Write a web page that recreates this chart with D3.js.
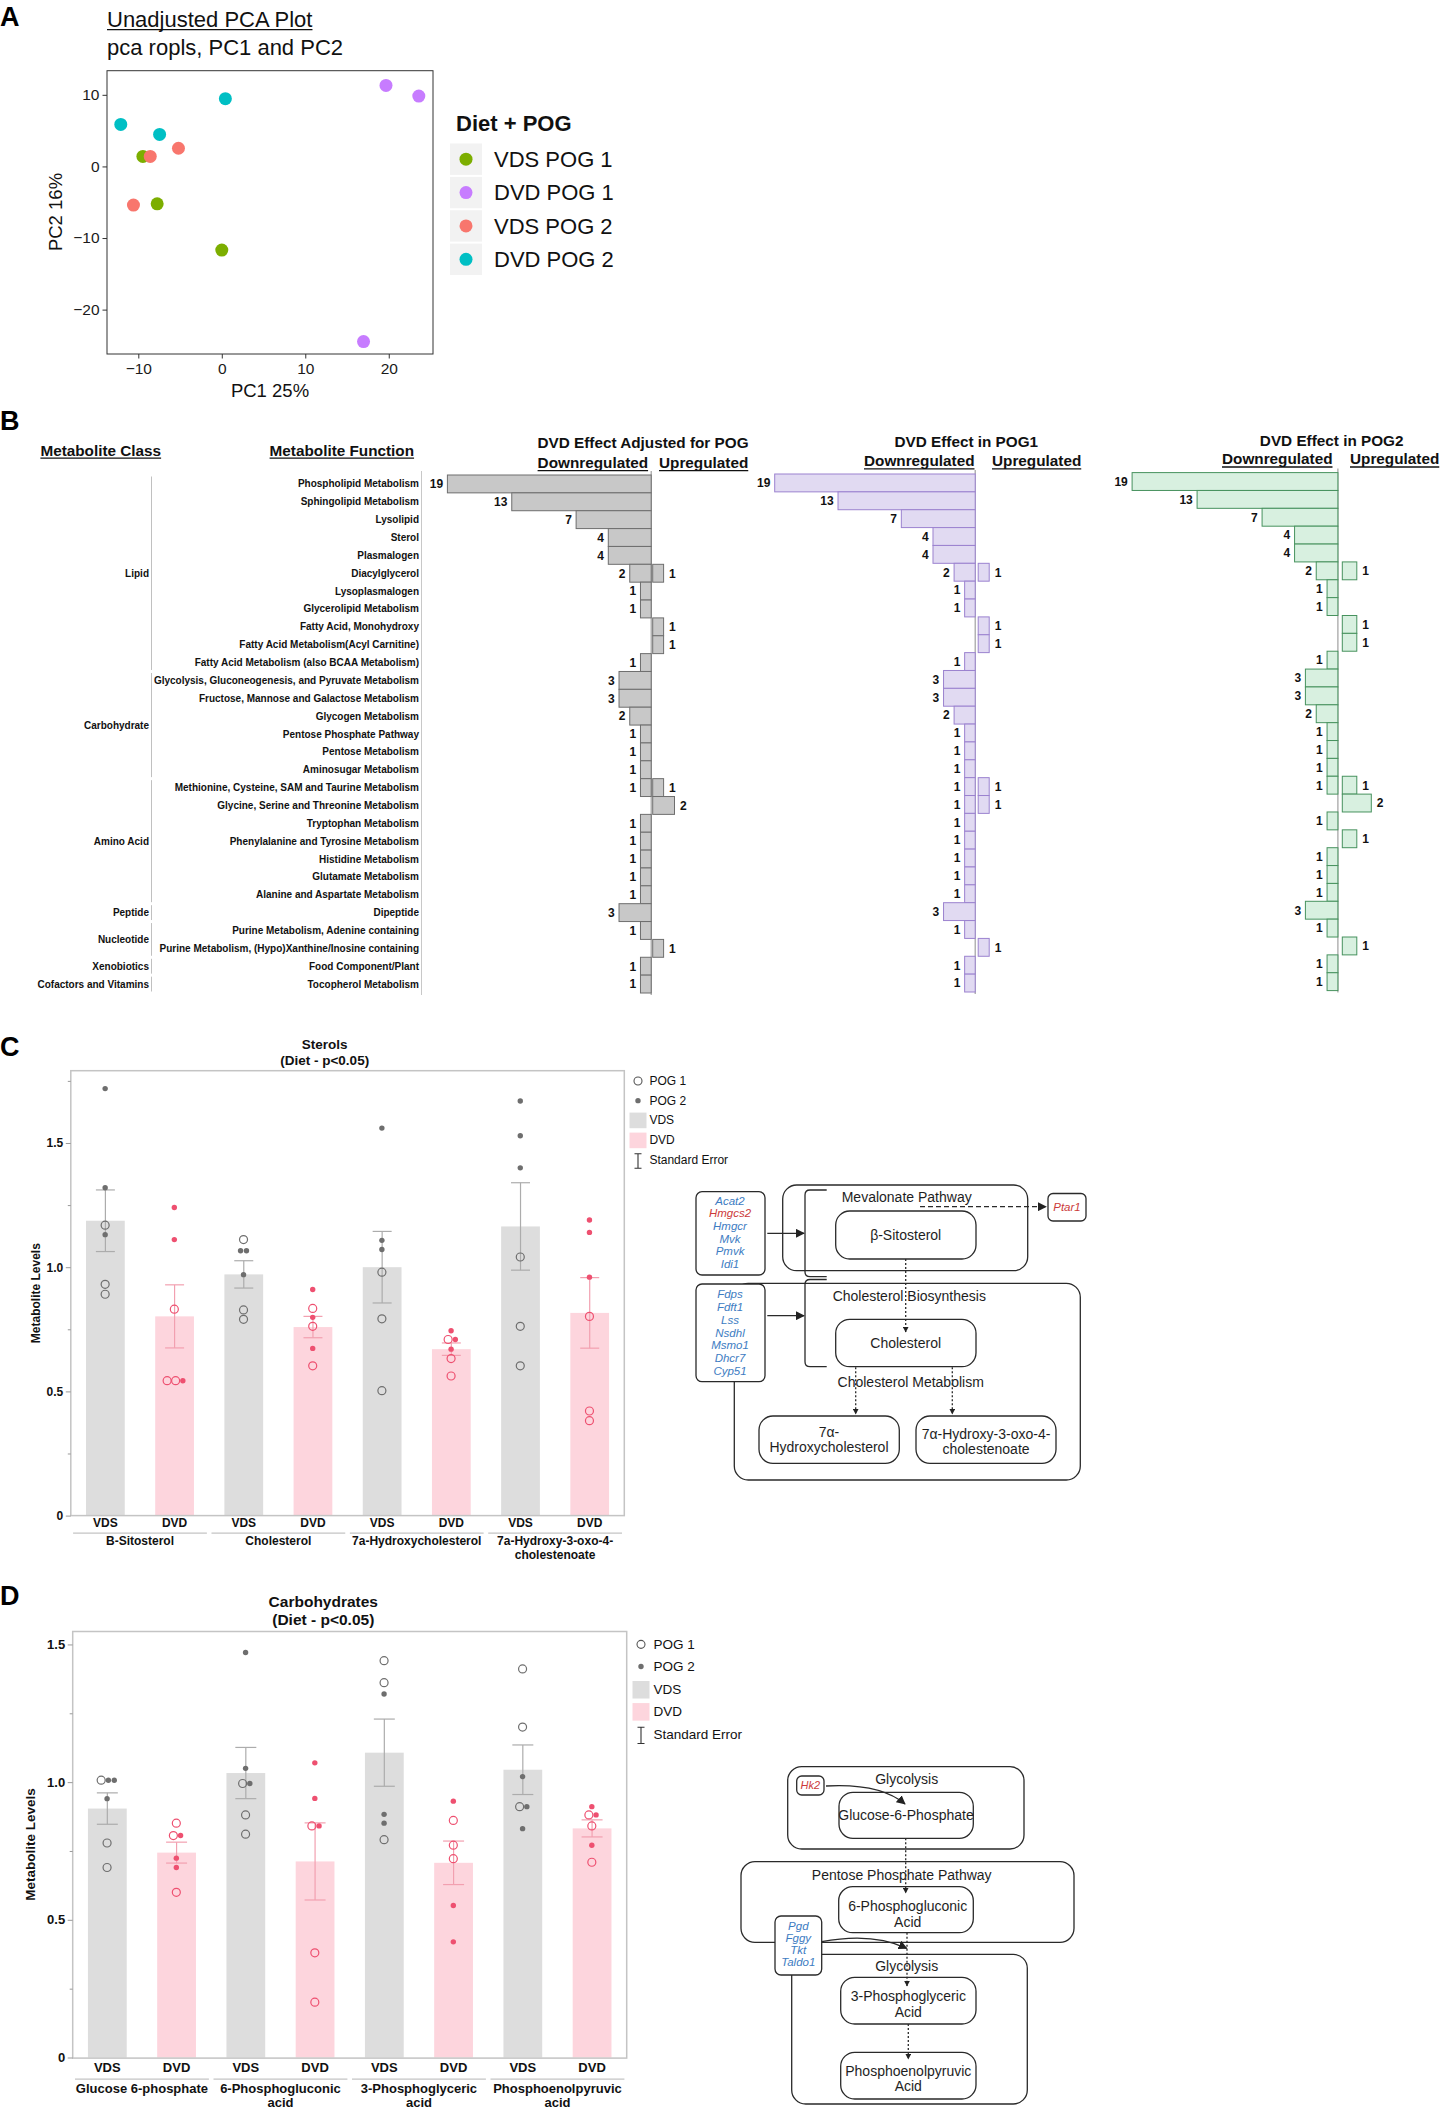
<!DOCTYPE html>
<html><head><meta charset="utf-8">
<script src="https://cdnjs.cloudflare.com/ajax/libs/d3/7.8.5/d3.min.js"></script>
<style>html,body{margin:0;padding:0;background:#fff}svg{display:block}</style>
</head><body>
<svg id="fig" width="1444" height="2112"></svg>
<script>
// ================= DATA =================
// Panel A – PCA scores
const pcaGroups = ["VDS POG 1","DVD POG 1","VDS POG 2","DVD POG 2"];
const pcaGroup = ["VDS POG 1","VDS POG 1","VDS POG 1","DVD POG 1","DVD POG 1","DVD POG 1",
                  "VDS POG 2","VDS POG 2","VDS POG 2","DVD POG 2","DVD POG 2","DVD POG 2"];
const pcaPC1 = [-9.45,-7.74,0.0,19.67,23.6,16.98,-8.57,-5.19,-10.58,-12.1,0.43,-7.45];
const pcaPC2 = [1.39,-5.22,-11.68,11.31,9.83,-24.47,1.39,2.54,-5.4,5.86,9.46,4.47];
const pcaXTicks = [-10,0,10,20];
const pcaYTicks = [-20,-10,0,10];

// Panel B – metabolite counts
const metaFunctions = ["Phospholipid Metabolism","Sphingolipid Metabolism","Lysolipid","Sterol","Plasmalogen",
 "Diacylglycerol","Lysoplasmalogen","Glycerolipid Metabolism","Fatty Acid, Monohydroxy",
 "Fatty Acid Metabolism(Acyl Carnitine)","Fatty Acid Metabolism (also BCAA Metabolism)",
 "Glycolysis, Gluconeogenesis, and Pyruvate Metabolism","Fructose, Mannose and Galactose Metabolism",
 "Glycogen Metabolism","Pentose Phosphate Pathway","Pentose Metabolism","Aminosugar Metabolism",
 "Methionine, Cysteine, SAM and Taurine Metabolism","Glycine, Serine and Threonine Metabolism",
 "Tryptophan Metabolism","Phenylalanine and Tyrosine Metabolism","Histidine Metabolism","Glutamate Metabolism",
 "Alanine and Aspartate Metabolism","Dipeptide","Purine Metabolism, Adenine containing",
 "Purine Metabolism, (Hypo)Xanthine/Inosine containing","Food Component/Plant","Tocopherol Metabolism"];
const metaClasses = ["Lipid","Carbohydrate","Amino Acid","Peptide","Nucleotide","Xenobiotics","Cofactors and Vitamins"];
const metaClassSizes = [11,6,7,1,2,1,1];
const adjDown  = [19,13,7,4,4,2,1,1,0,0,1,3,3,2,1,1,1,1,0,1,1,1,1,1,3,1,0,1,1];
const adjUp    = [0,0,0,0,0,1,0,0,1,1,0,0,0,0,0,0,0,1,2,0,0,0,0,0,0,0,1,0,0];
const pog1Down = [19,13,7,4,4,2,1,1,0,0,1,3,3,2,1,1,1,1,1,1,1,1,1,1,3,1,0,1,1];
const pog1Up   = [0,0,0,0,0,1,0,0,1,1,0,0,0,0,0,0,0,1,1,0,0,0,0,0,0,0,1,0,0];
const pog2Down = [19,13,7,4,4,2,1,1,0,0,1,3,3,2,1,1,1,1,0,1,0,1,1,1,3,1,0,1,1];
const pog2Up   = [0,0,0,0,0,1,0,0,1,1,0,0,0,0,0,0,0,1,2,0,1,0,0,0,0,0,1,0,0];

// Panel C – sterols
const diets = ["VDS","DVD"];
const sterolNames = [["B-Sitosterol"],["Cholesterol"],["7a-Hydroxycholesterol"],["7a-Hydroxy-3-oxo-4-","cholestenoate"]];
const sterolMeans = [1.187,0.802,0.971,0.759,1.000,0.670,1.164,0.816];
const sterolSE    = [0.124,0.127,0.055,0.043,0.144,0.025,0.176,0.142];
const sterolPOG1  = [[1.169,0.931,0.891],[0.831,0.543,0.543],[1.111,0.828,0.790],[0.834,0.762,0.603],
                     [0.980,0.792,0.503],[0.709,0.632,0.562],[1.041,0.762,0.603],[0.802,0.421,0.382]];
const sterolPOG2  = [[1.719,1.320,1.131],[1.240,1.111,0.543],[1.066,1.066,0.970],[0.910,0.798,0.673],
                     [1.560,1.108,1.071],[0.744,0.709,0.670],[1.669,1.529,1.400],[1.190,1.140,0.960]];
const sterolTicks = [0,0.5,1.0,1.5];
const sterolTickLabels = ["0","0.5","1.0","1.5"];
const sterolMinor = [0.25,0.75,1.25,1.75];

// Panel D – carbohydrates
const carbNames = [["Glucose 6-phosphate"],["6-Phosphogluconic","acid"],["3-Phosphoglyceric","acid"],["Phosphoenolpyruvic","acid"]];
const carbMeans = [0.904,0.744,1.033,0.712,1.107,0.707,1.045,0.832];
const carbSE    = [0.057,0.038,0.093,0.140,0.122,0.079,0.090,0.031];
const carbPOG1  = [[1.007,0.779,0.690],[0.851,0.806,0.600],[0.995,0.881,0.811],[0.841,0.380,0.201],
                   [1.441,1.361,0.791],[0.861,0.771,0.722],[1.411,1.200,0.911],[0.881,0.841,0.709]];
const carbPOG2  = [[1.007,1.007,0.940],[0.806,0.724,0.690],[1.471,1.050,0.995],[1.070,0.941,0.841],
                   [1.320,0.883,0.851],[0.931,0.552,0.420],[1.020,0.911,0.831],[0.911,0.881,0.771]];
const carbTicks = [0,0.5,1.0,1.5];
const carbTickLabels = ["0","0.5","1.0","1.5"];
const carbMinor = [0.25,0.75,1.25];

// ================= DRAWING =================
const FONT = "'Liberation Sans', Arial, Helvetica, sans-serif";
const svg = d3.select("#fig").attr("font-family", FONT);

// arrow marker
const defs = svg.append("defs");
defs.append("marker").attr("id","arr").attr("viewBox","0 0 10 10").attr("refX",9).attr("refY",5)
  .attr("markerWidth",9).attr("markerHeight",9).attr("markerUnits","userSpaceOnUse").attr("orient","auto")
  .append("path").attr("d","M0,0L10,5L0,10z").attr("fill","#222");
defs.append("marker").attr("id","arrS").attr("viewBox","0 0 10 10").attr("refX",9).attr("refY",5)
  .attr("markerWidth",6).attr("markerHeight",6).attr("markerUnits","userSpaceOnUse").attr("orient","auto")
  .append("path").attr("d","M0,0L10,5L0,10z").attr("fill","#222");

// panel letters
[["A",26],["B",430],["C",1056],["D",1605]].forEach(([t,y])=>{
  svg.append("text").attr("x",0).attr("y",y).attr("font-size",27).attr("font-weight","bold").text(t);
});

function underline(sel){
  sel.each(function(){
    const b=this.getBBox(); const y=+d3.select(this).attr("y");
    d3.select(this.parentNode).append("line").attr("x1",b.x).attr("x2",b.x+b.width)
      .attr("y1",y+2.6).attr("y2",y+2.6).attr("stroke","#111").attr("stroke-width",1.3);
  });
}

// ---------- Panel A ----------
(function(){
  const g = svg.append("g");
  const pcaColors = {"VDS POG 1":"#7CAE00","DVD POG 1":"#C77CFF","VDS POG 2":"#F8766D","DVD POG 2":"#00BFC4"};
  const x = d3.scaleLinear().domain([-13.75,25.3]).range([107,433]);
  const y = d3.scaleLinear().domain([-26.2,13.37]).range([354,70.7]);
  const t1 = g.append("text").attr("x",107).attr("y",27).attr("font-size",22).attr("fill","#111").text("Unadjusted PCA Plot");
  underline(t1);
  g.append("text").attr("x",107).attr("y",55).attr("font-size",22).attr("fill","#111").text("pca ropls, PC1 and PC2");
  g.append("rect").attr("x",107).attr("y",70.7).attr("width",326).attr("height",283.3).attr("fill","#fff").attr("stroke","#333").attr("stroke-width",1);
  const xa = g.append("g").attr("transform","translate(0,354)").call(d3.axisBottom(x).tickValues(pcaXTicks).tickSize(4.5).tickPadding(4));
  const ya = g.append("g").attr("transform","translate(107,0)").call(d3.axisLeft(y).tickValues(pcaYTicks).tickSize(4.5).tickPadding(3));
  [xa,ya].forEach(a=>{a.select(".domain").remove(); a.attr("font-family",FONT).attr("font-size",15.5);
    a.selectAll("line").attr("stroke","#333"); a.selectAll("text").attr("fill","#1a1a1a");});
  g.append("text").attr("x",270).attr("y",397).attr("text-anchor","middle").attr("font-size",18.5).attr("fill","#111").text("PC1 25%");
  g.append("text").attr("transform","translate(62,212) rotate(-90)").attr("text-anchor","middle").attr("font-size",18.5).attr("fill","#111").text("PC2 16%");
  g.selectAll("circle.pt").data(d3.range(pcaPC1.length)).join("circle").attr("class","pt")
    .attr("cx",i=>x(pcaPC1[i])).attr("cy",i=>y(pcaPC2[i])).attr("r",6.5).attr("fill",i=>pcaColors[pcaGroup[i]]);
  // legend
  g.append("text").attr("x",456).attr("y",131).attr("font-size",22).attr("font-weight","bold").attr("fill","#111").text("Diet + POG");
  const ly = d3.scaleBand().domain(pcaGroups).range([143.5,275]).paddingInner(0.06);
  const lg = g.selectAll("g.lk").data(pcaGroups).join("g").attr("class","lk");
  lg.append("rect").attr("x",450).attr("y",d=>ly(d)).attr("width",32).attr("height",ly.bandwidth()).attr("fill","#f2f2f2");
  lg.append("circle").attr("cx",466).attr("cy",d=>ly(d)+ly.bandwidth()/2).attr("r",6.5).attr("fill",d=>pcaColors[d]);
  lg.append("text").attr("x",494).attr("y",d=>ly(d)+ly.bandwidth()/2).attr("dy","0.36em").attr("font-size",22).attr("fill","#111").text(d=>d);
})();

// ---------- Panel B ----------
(function(){
  const g = svg.append("g").attr("font-weight","bold");
  const rows = d3.scaleBand().domain(d3.range(metaFunctions.length)).range([475,993]);
  const rh = rows.bandwidth();
  // headers
  const hdr = [
    {t:"Metabolite Class",x:40.4,y:455.5,a:"start",u:1},
    {t:"Metabolite Function",x:269.6,y:455.5,a:"start",u:1},
    {t:"DVD Effect Adjusted for POG",x:643,y:447.7,a:"middle",u:0},
    {t:"Downregulated",x:537.6,y:468,a:"start",u:1},
    {t:"Upregulated",x:659,y:468,a:"start",u:1},
    {t:"DVD Effect in POG1",x:966.3,y:447,a:"middle",u:0},
    {t:"Downregulated",x:864,y:466.2,a:"start",u:1},
    {t:"Upregulated",x:992,y:466.2,a:"start",u:1},
    {t:"DVD Effect in POG2",x:1331.7,y:446,a:"middle",u:0},
    {t:"Downregulated",x:1222,y:464.4,a:"start",u:1},
    {t:"Upregulated",x:1350,y:464.4,a:"start",u:1}];
  hdr.forEach(h=>{
    const hg=g.append("g");
    const t=hg.append("text").attr("x",h.x).attr("y",h.y).attr("text-anchor",h.a).attr("font-size",15.3).attr("fill","#111").text(h.t);
    if(h.u) underline(t);
  });
  // function labels
  g.selectAll("text.fn").data(metaFunctions).join("text").attr("class","fn")
    .attr("x",419).attr("y",(d,i)=>rows(i)+rh/2).attr("dy","0.35em").attr("text-anchor","end")
    .attr("font-size",10).attr("fill","#111").text(d=>d);
  g.append("line").attr("x1",421.5).attr("x2",421.5).attr("y1",471).attr("y2",995).attr("stroke","#c8c8c8");
  // class labels & brackets
  let start=0;
  metaClasses.forEach((c,k)=>{
    const n=metaClassSizes[k];
    const y0=rows(start), y1=rows(start+n-1)+rh;
    g.append("line").attr("x1",151.5).attr("x2",151.5).attr("y1",y0+1.5).attr("y2",y1-1.5).attr("stroke","#c0c0c0");
    g.append("text").attr("x",149).attr("y",(y0+y1)/2).attr("dy","0.35em").attr("text-anchor","end")
      .attr("font-size",10).attr("fill","#111").text(c);
    start+=n;
  });
  // bar panels
  const panels = [
    {down:adjDown, up:adjUp, bx:651.2, span:203.8, upUnit:10.9, upGap:1.5, off:0, fill:"#c8c8c8", stroke:"#6e6e6e"},
    {down:pog1Down, up:pog1Up, bx:975.2, span:200.5, upUnit:11, upGap:3, off:-1, fill:"#e1daf2", stroke:"#9b82cf"},
    {down:pog2Down, up:pog2Up, bx:1337.9, span:205.8, upUnit:14.5, upGap:4.4, off:-2.4, fill:"#d8f0e0", stroke:"#47925e"}];
  panels.forEach(p=>{
    const w = d3.scaleLinear().domain([0,19]).range([0,p.span]);
    const wu = d3.scaleLinear().domain([0,1]).range([0,p.upUnit]);
    const pg = g.append("g");
    pg.append("line").attr("x1",p.bx).attr("x2",p.bx).attr("y1",471+p.off).attr("y2",995+p.off).attr("stroke","#a0a0a0").attr("stroke-width",1.2);
    const idx = d3.range(p.down.length);
    pg.selectAll("rect.d").data(idx.filter(i=>p.down[i]>0)).join("rect").attr("class","d")
      .attr("x",i=>p.bx-w(p.down[i])).attr("y",i=>rows(i)+p.off).attr("width",i=>w(p.down[i])).attr("height",rh)
      .attr("fill",p.fill).attr("stroke",p.stroke).attr("stroke-width",1);
    pg.selectAll("rect.u").data(idx.filter(i=>p.up[i]>0)).join("rect").attr("class","u")
      .attr("x",p.bx+p.upGap).attr("y",i=>rows(i)+p.off).attr("width",i=>wu(p.up[i])).attr("height",rh)
      .attr("fill",p.fill).attr("stroke",p.stroke).attr("stroke-width",1);
    pg.selectAll("text.d").data(idx.filter(i=>p.down[i]>0)).join("text").attr("class","d")
      .attr("x",i=>p.bx-w(p.down[i])-4.3).attr("y",i=>rows(i)+p.off+rh/2).attr("dy","0.36em").attr("text-anchor","end")
      .attr("font-size",12).attr("fill","#111").text(i=>p.down[i]);
    pg.selectAll("text.u").data(idx.filter(i=>p.up[i]>0)).join("text").attr("class","u")
      .attr("x",i=>p.bx+p.upGap+wu(p.up[i])+5.5).attr("y",i=>rows(i)+p.off+rh/2).attr("dy","0.36em")
      .attr("font-size",12).attr("fill","#111").text(i=>p.up[i]);
  });
})();

// ---------- Panels C & D (bar + points) ----------
function drawBars(c){
  const g = svg.append("g");
  const x = d3.scaleBand().domain(d3.range(c.means.length)).range([c.x0,c.x1]).paddingInner(0.44).paddingOuter(0.22);
  const y = d3.scaleLinear().domain([0,c.yMax]).range([c.y1,c.y0]);
  const bw = x.bandwidth(), step = x.step();
  const barFill = ["#dddddd","#fdd5dd"], ptCol = ["#6e6e6e","#ee5070"], seCol = ["#acacac","#f2a0b0"];
  // title
  c.title.forEach((t,i)=>g.append("text").attr("x",c.titleX).attr("y",c.titleY[i]).attr("text-anchor","middle")
     .attr("font-size",c.titleSize).attr("font-weight","bold").attr("fill","#111").text(t));
  // bars
  const idx = d3.range(c.means.length);
  g.selectAll("rect.bar").data(idx).join("rect").attr("class","bar")
    .attr("x",i=>x(i)).attr("width",bw).attr("y",i=>y(c.means[i])).attr("height",i=>y(0)-y(c.means[i]))
    .attr("fill",i=>barFill[i%2]);
  // error bars
  const eb = g.selectAll("g.eb").data(idx).join("g").attr("class","eb").attr("stroke",i=>seCol[i%2]).attr("stroke-width",1.2);
  eb.append("line").attr("x1",i=>x(i)+bw/2).attr("x2",i=>x(i)+bw/2).attr("y1",i=>y(c.means[i]+c.se[i])).attr("y2",i=>y(c.means[i]-c.se[i]));
  eb.append("line").attr("x1",i=>x(i)+bw/2-c.cap).attr("x2",i=>x(i)+bw/2+c.cap).attr("y1",i=>y(c.means[i]+c.se[i])).attr("y2",i=>y(c.means[i]+c.se[i]));
  eb.append("line").attr("x1",i=>x(i)+bw/2-c.cap).attr("x2",i=>x(i)+bw/2+c.cap).attr("y1",i=>y(c.means[i]-c.se[i])).attr("y2",i=>y(c.means[i]-c.se[i]));
  // points with simple overlap spreading
  const rO=4, rF=2.7;
  idx.forEach(i=>{
    const pts = c.pog1[i].map(v=>({v,open:true,r:rO})).concat(c.pog2[i].map(v=>({v,open:false,r:rF})));
    pts.forEach(p=>p.py=y(p.v));
    const used=new Set();
    pts.forEach((p,k)=>{
      if(used.has(k)) return;
      const cl=[]; pts.forEach((q,m)=>{ if(!used.has(m) && Math.abs(q.py-p.py)<5){cl.push(q);used.add(m);} });
      const tot=d3.sum(cl,q=>2*q.r+0.5); let cur=-tot/2;
      cl.forEach(q=>{q.dx=cur+q.r; cur+=2*q.r+0.5;});
    });
    const cx = x(i)+bw/2;
    g.selectAll(null).data(pts).join("circle").attr("cx",p=>cx+p.dx).attr("cy",p=>p.py).attr("r",p=>p.r)
      .attr("fill",p=>p.open?"none":ptCol[i%2]).attr("stroke",p=>p.open?ptCol[i%2]:"none").attr("stroke-width",1.2);
  });
  // frame
  g.append("rect").attr("x",c.x0).attr("y",c.y0).attr("width",c.x1-c.x0).attr("height",c.boxBottom-c.y0)
    .attr("fill","none").attr("stroke","#c4c4c4").attr("stroke-width",1.5);
  // y axis
  const ya = g.append("g").attr("transform",`translate(${c.x0},0)`)
    .call(d3.axisLeft(y).tickValues(c.ticks).tickSize(5).tickPadding(2.5).tickFormat((d,i)=>c.tickLabels[i]));
  const ym = g.append("g").attr("transform",`translate(${c.x0},0)`)
    .call(d3.axisLeft(y).tickValues(c.minor).tickSize(3).tickFormat(""));
  [ya,ym].forEach(a=>{a.select(".domain").remove(); a.selectAll("line").attr("stroke","#9a9a9a");
    a.attr("font-family",FONT).attr("font-size",c.tickSize).attr("font-weight","bold"); a.selectAll("text").attr("fill","#111");});
  g.append("text").attr("transform",`translate(${c.yTitleX},${(c.y0+c.y1)/2}) rotate(-90)`).attr("text-anchor","middle")
    .attr("font-size",c.yTitleSize).attr("font-weight","bold").attr("fill","#111").text("Metabolite Levels");
  // x labels
  g.selectAll("text.xl").data(idx).join("text").attr("class","xl").attr("x",i=>x(i)+bw/2).attr("y",c.xLabelY)
    .attr("text-anchor","middle").attr("font-size",c.xSize).attr("font-weight","bold").attr("fill","#111").text(i=>diets[i%2]);
  c.names.forEach((lines,k)=>{
    const a = x(2*k) - 0.22*step + 2.3, b = x(2*k+1) + bw + 0.22*step - 2.3;
    g.append("line").attr("x1",a).attr("x2",b).attr("y1",c.groupLineY).attr("y2",c.groupLineY).attr("stroke","#c4c4c4").attr("stroke-width",1.2);
    lines.forEach((t,j)=>g.append("text").attr("x",(a+b)/2).attr("y",c.groupY[j]).attr("text-anchor","middle")
      .attr("font-size",c.xSize).attr("font-weight","bold").attr("fill","#111").text(t));
  });
  // legend
  const L=c.leg, fs=c.legSize;
  const lgd=g.append("g").attr("font-size",fs).attr("fill","#111");
  lgd.append("circle").attr("cx",L.cx).attr("cy",L.ys[0]-fs*0.33).attr("r",rO).attr("fill","none").attr("stroke","#555").attr("stroke-width",1.1);
  lgd.append("circle").attr("cx",L.cx).attr("cy",L.ys[1]-fs*0.33).attr("r",rF).attr("fill","#6e6e6e");
  lgd.append("rect").attr("x",L.cx-8.5).attr("y",L.ys[2]-fs*0.95).attr("width",17).attr("height",fs*1.3).attr("fill",barFill[0]);
  lgd.append("rect").attr("x",L.cx-8.5).attr("y",L.ys[3]-fs*0.95).attr("width",17).attr("height",fs*1.3).attr("fill",barFill[1]);
  const iy0=L.ys[4]-fs*0.85, iy1=L.ys[4]+fs*0.35;
  lgd.append("path").attr("d",`M${L.cx},${iy0}V${iy1}M${L.cx-3.5},${iy0}H${L.cx+3.5}M${L.cx-3.5},${iy1}H${L.cx+3.5}`)
    .attr("stroke","#333").attr("stroke-width",1.1).attr("fill","none");
  ["POG 1","POG 2","VDS","DVD","Standard Error"].forEach((t,i)=>lgd.append("text").attr("x",L.tx).attr("y",L.ys[i]).text(t));
}

drawBars({means:sterolMeans,se:sterolSE,pog1:sterolPOG1,pog2:sterolPOG2,names:sterolNames,
  x0:70.8,x1:624.3,y0:1070.7,y1:1515.6,boxBottom:1515.6,yMax:1.791,
  ticks:sterolTicks,tickLabels:sterolTickLabels,minor:sterolMinor,tickSize:12,
  title:["Sterols","(Diet - p<0.05)"],titleX:324.7,titleY:[1048.6,1064.6],titleSize:13.5,
  yTitleX:39.5,yTitleSize:12,xLabelY:1527,xSize:12,groupLineY:1533.2,groupY:[1545,1559.2],cap:9.5,
  leg:{cx:638,tx:649.4,ys:[1085,1104.6,1124,1144,1164]},legSize:12});

drawBars({means:carbMeans,se:carbSE,pog1:carbPOG1,pog2:carbPOG2,names:carbNames,
  x0:72.7,x1:626.7,y0:1631.5,y1:2057.5,boxBottom:2058.1,yMax:1.547,
  ticks:carbTicks,tickLabels:carbTickLabels,minor:carbMinor,tickSize:13,
  title:["Carbohydrates","(Diet - p<0.05)"],titleX:323.3,titleY:[1607.3,1625.3],titleSize:15.5,
  yTitleX:34.5,yTitleSize:13.5,xLabelY:2072,xSize:13,groupLineY:2079.2,groupY:[2092.7,2106.9],cap:10.5,
  leg:{cx:641,tx:653.4,ys:[1648.8,1671,1693.8,1715.9,1738.7]},legSize:13.5});

// ---------- Pathway diagrams ----------
function box(g,x,y,w,h,rx,fill){ return g.append("rect").attr("x",x).attr("y",y).attr("width",w).attr("height",h).attr("rx",rx)
  .attr("fill",fill||"none").attr("stroke","#2a2a2a").attr("stroke-width",1.3); }
function txt(g,x,y,t,o){ o=o||{}; return g.append("text").attr("x",x).attr("y",y).attr("dy","0.35em").attr("text-anchor","middle")
  .attr("font-size",o.size||14).attr("font-style",o.italic?"italic":null).attr("fill",o.color||"#1e1e1e").text(t); }
function arrow(g,d,dash,m){ return g.append("path").attr("d",d).attr("fill","none").attr("stroke","#2a2a2a").attr("stroke-width",1.3)
  .attr("stroke-dasharray",dash||null).attr("marker-end",`url(#${m||"arr"})`); }
const BLUE="#3d7cc2", RED="#cc3a3a";

(function(){ // sterol pathway
  const g=svg.append("g");
  box(g,782.7,1185,245,85.7,14);
  box(g,734.3,1283.3,346,196.7,14);
  g.append("path").attr("d","M826.7,1190H810q-5,0-5,5V1272q0,4.7,5,4.7H826.7").attr("fill","none").attr("stroke","#2a2a2a").attr("stroke-width",1.3);
  g.append("path").attr("d","M826.7,1279.5H810q-5,0-5,5V1361.7q0,5,5,5H826.7").attr("fill","none").attr("stroke","#2a2a2a").attr("stroke-width",1.3);
  box(g,835.7,1211,140.3,48,14,"#fff");
  box(g,835.7,1319.3,140.3,47.4,14,"#fff");
  box(g,759,1416,140.3,47.3,14,"#fff");
  box(g,916,1416,140,47.3,14,"#fff");
  box(g,1048,1193.5,38,27.5,5,"#fff");
  box(g,696,1191.7,69,83.3,6,"#fff");
  box(g,696,1284,69,97.7,6,"#fff");
  txt(g,906.7,1197.5,"Mevalonate Pathway");
  txt(g,905.7,1235,"β-Sitosterol");
  txt(g,909.3,1296,"Cholesterol Biosynthesis");
  txt(g,905.7,1343,"Cholesterol");
  txt(g,910.7,1382.3,"Cholesterol Metabolism");
  txt(g,829,1431.7,"7α-"); txt(g,829,1447.3,"Hydroxycholesterol");
  txt(g,986,1434,"7α-Hydroxy-3-oxo-4-"); txt(g,986,1449.3,"cholestenoate");
  txt(g,1067,1207,"Ptar1",{italic:1,size:11.5,color:RED});
  ["Acat2","Hmgcs2","Hmgcr","Mvk","Pmvk","Idi1"].forEach((t,i)=>txt(g,730,1200.7+i*12.66,t,{italic:1,size:11.5,color:t==="Hmgcs2"?RED:BLUE}));
  ["Fdps","Fdft1","Lss","Nsdhl","Msmo1","Dhcr7","Cyp51"].forEach((t,i)=>txt(g,730,1294.3+i*12.73,t,{italic:1,size:11.5,color:BLUE}));
  arrow(g,"M767.3,1233.3H804");
  arrow(g,"M767.3,1315.7H804");
  arrow(g,"M920,1206.7H1046","5,3");
  arrow(g,"M905.7,1259V1332","2,2","arrS");
  arrow(g,"M855.7,1367.3V1414","2,2","arrS");
  arrow(g,"M952.3,1367.3V1414","2,2","arrS");
})();

(function(){ // carbohydrate pathway
  const g=svg.append("g");
  box(g,787.7,1766.7,236.3,82.3,14);
  box(g,741,1861.7,333,80.6,14);
  box(g,791.7,1954.3,235.6,149.7,14);
  box(g,839,1792.3,134.3,46,14,"#fff");
  box(g,838.7,1886.7,134.6,46,14,"#fff");
  box(g,840.7,1977.3,135.3,46.7,14,"#fff");
  box(g,840.7,2052.3,135.3,46.7,14,"#fff");
  box(g,796.7,1776,27.3,19,5,"#fff");
  box(g,775,1916,46.7,59,6,"#fff");
  txt(g,906.7,1779,"Glycolysis");
  txt(g,906,1815.3,"Glucose-6-Phosphate");
  txt(g,901.7,1875,"Pentose Phosphate Pathway");
  txt(g,907.7,1905.7,"6-Phosphogluconic"); txt(g,907.7,1921.7,"Acid");
  txt(g,906.7,1966,"Glycolysis");
  txt(g,908.3,1996,"3-Phosphoglyceric"); txt(g,908.3,2011.7,"Acid");
  txt(g,908.3,2070.7,"Phosphoenolpyruvic"); txt(g,908.3,2086,"Acid");
  txt(g,810.3,1785.5,"Hk2",{italic:1,size:11,color:RED});
  ["Pgd","Fggy","Tkt","Taldo1"].forEach((t,i)=>txt(g,798.3,1925.7+i*12.2,t,{italic:1,size:11.5,color:BLUE}));
  arrow(g,"M826,1786Q880,1783 905,1804");
  arrow(g,"M821.7,1941.7Q872,1932 906.7,1948.3");
  arrow(g,"M905.7,1838.3V1893","2,2","arrS");
  arrow(g,"M907,1932.7V1986","2,2","arrS");
  arrow(g,"M908.3,2024V2059","2,2","arrS");
})();
</script>
</body></html>
